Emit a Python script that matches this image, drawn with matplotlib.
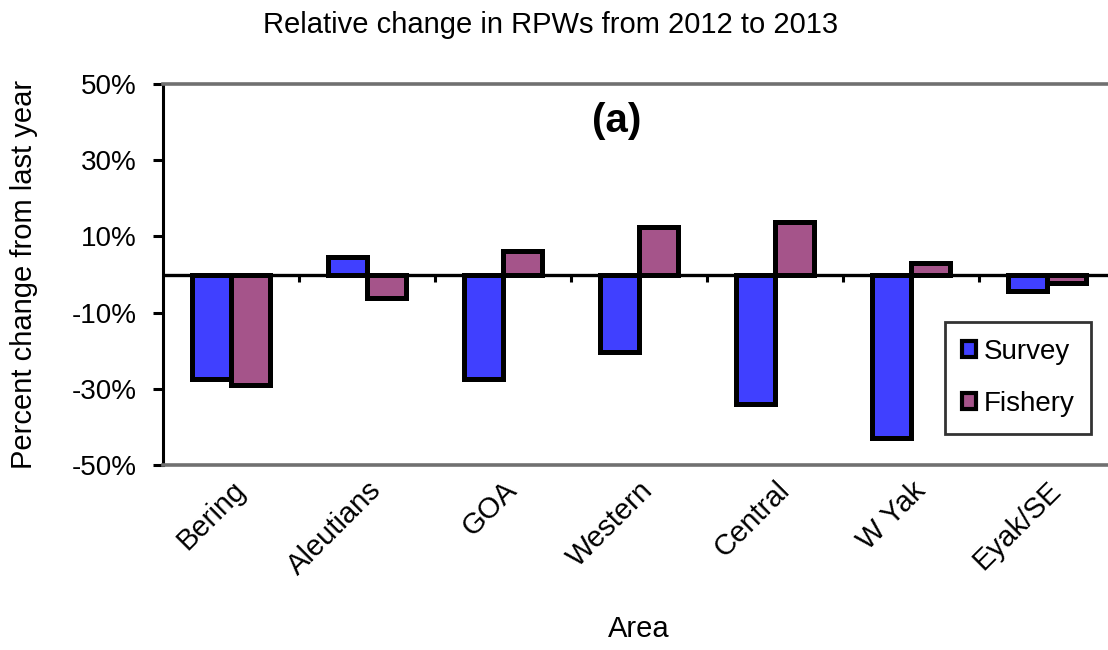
import matplotlib
matplotlib.use("Agg")
import matplotlib.pyplot as plt
import numpy as np

plt.rcParams['font.family'] = ['Liberation Sans', 'DejaVu Sans']

areas = ["Bering", "Aleutians", "GOA", "Western", "Central", "W Yak", "Eyak/SE"]
survey = [-27.5, 4.6, -27.5, -20.3, -33.9, -42.9, -4.2]
fishery = [-29.1, -6.1, 6.1, 12.4, 13.7, 3.0, -2.2]
yticks = [-50, -30, -10, 10, 30, 50]

survey_color = "#4040FF"
fishery_color = "#A5548A"

fig = plt.figure(figsize=(11.08, 6.5), dpi=100)
ax = fig.add_axes([163/1108, (650-465)/650, 952/1108, 381/650])

x = np.arange(len(areas))
w = 0.285
ax.bar(x - w/2, survey, w, color=survey_color, edgecolor="black", linewidth=3.6,
       label="Survey", zorder=3)
ax.bar(x + w/2, fishery, w, color=fishery_color, edgecolor="black", linewidth=3.6,
       label="Fishery", zorder=3)

ax.set_xlim(-0.5, len(areas) - 0.5)
ax.set_ylim(-50, 50)

# zero line with category-boundary ticks
ax.axhline(0, color="black", lw=2.4, zorder=4)
bounds = np.arange(len(areas) + 1) - 0.5
ax.vlines(bounds[1:], -2.0, 0, color="black", lw=2.2, zorder=4)

ax.set_yticks(yticks)
ax.set_yticklabels([f"{v}%" for v in yticks], fontsize=20)
ax.tick_params(axis="y", direction="out", length=7, width=2.2, pad=12)

ax.set_xticks(x)
ax.set_xticklabels(areas, fontsize=21, rotation=45, ha="right",
                   rotation_mode="anchor")
ax.tick_params(axis="x", length=0, pad=8)

for s in ["top", "bottom"]:
    ax.spines[s].set_color("#707070")
    ax.spines[s].set_linewidth(2.6)
ax.spines["left"].set_color("black")
ax.spines["left"].set_linewidth(2.2)
ax.spines["right"].set_visible(False)

ax.set_ylabel("Percent change from last year", fontsize=21)
ax.yaxis.set_label_coords(-0.131, 0.5)
ax.set_xlabel("Area", fontsize=21)
ax.xaxis.set_label_coords(0.5, -0.395)

ax.text(0.477, 0.903, "(a)", transform=ax.transAxes, fontsize=29,
        fontweight="bold", ha="center", va="center")

fig.text(0.497, 0.962, "Relative change in RPWs from 2012 to 2013",
         fontsize=21, ha="center", va="center")

leg = ax.legend(loc="upper left", bbox_to_anchor=(0.8214, 0.3753), fontsize=20,
                frameon=True, fancybox=False, shadow=False,
                handlelength=0.5, handleheight=0.5, handletextpad=0.3,
                labelspacing=0.95, borderpad=0.6, borderaxespad=0)
leg.get_frame().set_edgecolor("black")
leg.get_frame().set_linewidth(2.0)
for h in leg.legend_handles:
    h.set_linewidth(3.0)

fig.savefig("out.png", dpi=100)
